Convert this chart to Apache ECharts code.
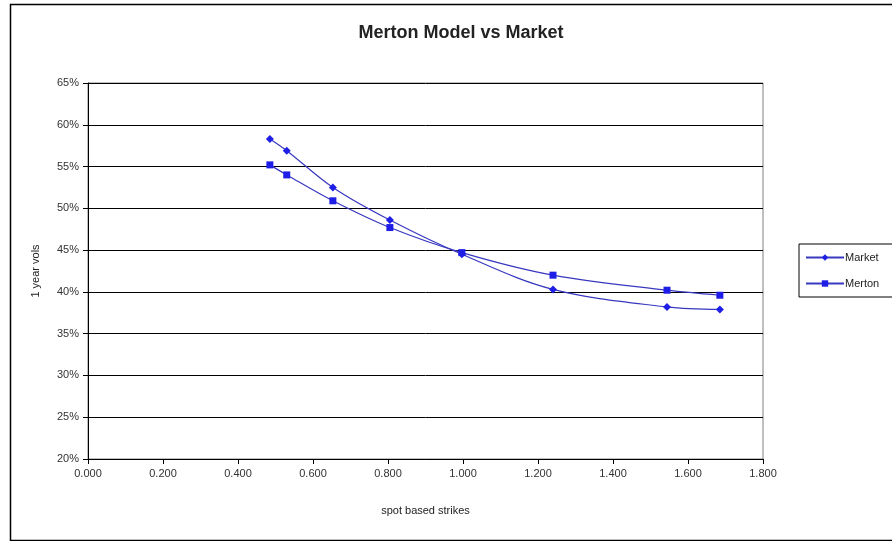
<!DOCTYPE html>
<html>
<head>
<meta charset="utf-8">
<script src="https://cdn.jsdelivr.net/npm/echarts@6/dist/echarts.min.js"></script>
<style>
html,body{margin:0;padding:0;background:#fff;}
#chart{width:892px;height:541px;}
</style>
</head>
<body>
<div id="chart"></div>
<script>
const strikes = [0.485, 0.530, 0.653, 0.805, 0.997, 1.240, 1.544, 1.685];
const marketVols = [58.3, 56.9, 52.5, 48.6, 44.5, 40.3, 38.2, 37.9];
const mertonVols = [55.2, 54.0, 50.9, 47.7, 44.7, 42.0, 40.2, 39.6];
const seriesNames = ['Market', 'Merton'];
const titleText = 'Merton Model vs Market';
const xAxisName = 'spot based strikes';
const yAxisName = '1 year vols';

const chart = echarts.init(document.getElementById('chart'));
const font = 'Liberation Sans, Arial, sans-serif';
const lineColor = '#3838c0';
const markColor = '#1e1ee6';

function pairs(xs, ys) { return xs.map((x, i) => [x, ys[i]]); }

chart.setOption({
  animation: false,
  backgroundColor: '#fff',
  title: {
    text: titleText,
    left: 456, top: 19,
    textAlign: 'center',
    textStyle: {fontFamily: font, fontSize: 18, fontWeight: 'bold', color: '#222'}
  },
  graphic: [{
    type: 'rect', left: 8, top: 2,
    shape: {width: 900, height: 536},
    style: {fill: 'none', stroke: '#000', lineWidth: 1.5},
    silent: true
  }],
  legend: {
    orient: 'vertical',
    left: 799, top: 244,
    padding: [8, 16, 8, 6],
    itemGap: 15,
    itemWidth: 38, itemHeight: 8,
    borderColor: '#000', borderWidth: 1,
    textStyle: {fontFamily: font, fontSize: 11, color: '#222', padding: [0,0,0,-4]},
    data: seriesNames
  },
  grid: {
    left: 88, right: 129, top: 83, bottom: 82,
    show: true, borderColor: '#808080', borderWidth: 1, backgroundColor: '#fff'
  },
  xAxis: {
    type: 'value', min: 0, max: 1.8, interval: 0.2,
    name: xAxisName, nameLocation: 'middle', nameGap: 46,
    nameTextStyle: {fontFamily: font, fontSize: 11, color: '#222'},
    axisLine: {show: true, onZero: false, lineStyle: {color: '#000', width: 1}},
    axisTick: {show: true, inside: false, length: 5, lineStyle: {color: '#000'}},
    axisLabel: {fontFamily: font, fontSize: 11, color: '#333', margin: 9,
      formatter: v => v.toFixed(3)},
    splitLine: {show: false}
  },
  yAxis: {
    type: 'value', min: 20, max: 65, interval: 5,
    name: yAxisName, nameLocation: 'middle', nameGap: 47,
    nameTextStyle: {fontFamily: font, fontSize: 11, color: '#222'},
    axisLine: {show: true, lineStyle: {color: '#000', width: 1}},
    axisTick: {show: true, inside: false, length: 5, lineStyle: {color: '#000'}},
    axisLabel: {fontFamily: font, fontSize: 11, color: '#333', margin: 9,
      formatter: '{value}%'},
    splitLine: {show: true, lineStyle: {color: '#000', width: 1}}
  },
  series: [
    {
      name: seriesNames[0], type: 'line', smooth: 0.35,
      data: pairs(strikes, marketVols),
      symbol: 'diamond', symbolSize: 8,
      lineStyle: {color: lineColor, width: 1.2},
      itemStyle: {color: markColor}
    },
    {
      name: seriesNames[1], type: 'line', smooth: 0.35,
      data: pairs(strikes, mertonVols),
      symbol: 'rect', symbolSize: 7,
      lineStyle: {color: lineColor, width: 1.2},
      itemStyle: {color: markColor}
    }
  ]
});
</script>
</body>
</html>
